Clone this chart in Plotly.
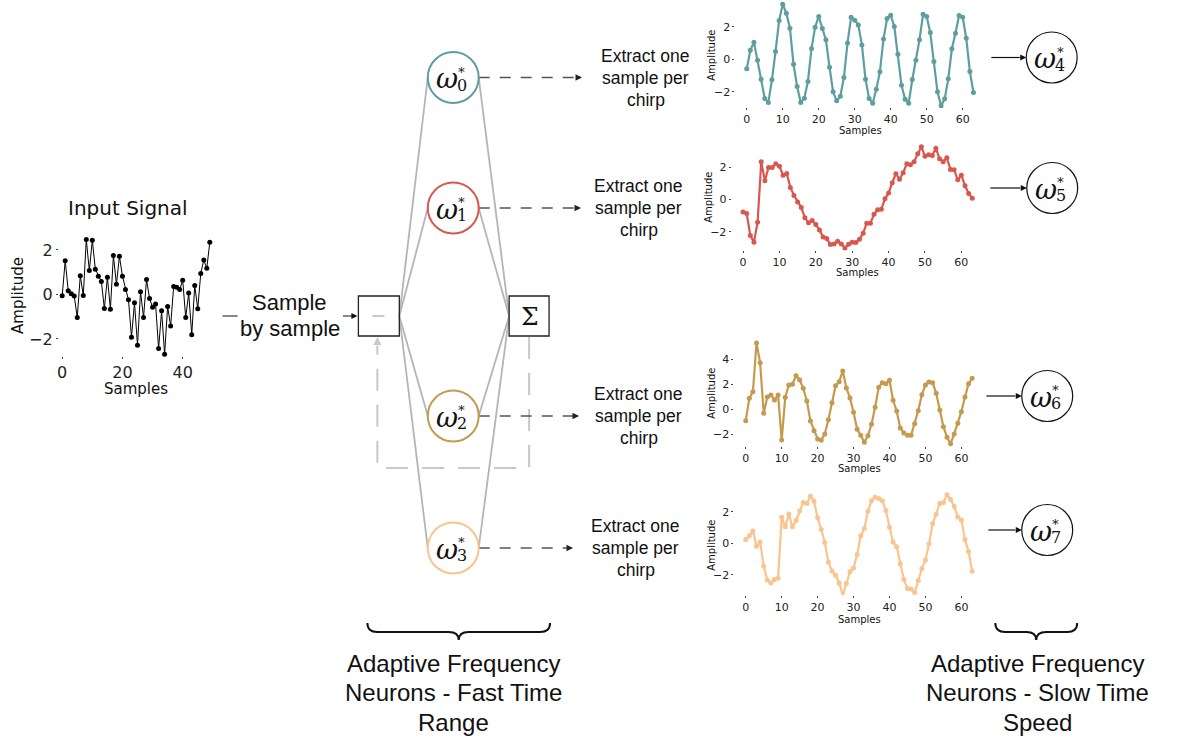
import plotly.graph_objects as go

W, H = 1184, 740

# ---------------- data ----------------
input_signal = [-0.06, 1.52, 0.17, 0.03, -0.07, -1.03, 0.84, -0.04, 2.47, 1.08,
                2.44, 1.14, 0.82, 0.58, -0.63, 0.78, -0.66, 1.75, 0.46, 1.72,
                0.82, 0.22, -0.24, -1.92, -0.37, -2.28, 0.12, -1.03, 0.67, -0.18,
                -0.57, -0.43, -2.43, -0.73, -2.68, -0.54, -1.41, 0.36, 0.33, 0.22,
                0.64, -1.03, 0.07, -1.81, 0.40, -0.64, 0.94, 1.55, 1.18, 2.35]

out_w4 = [-0.59, 0.55, 1.05, -0.06, -1.23, -2.42, -2.67, -1.27, 0.47, 2.38,
          3.38, 2.83, 1.91, -0.31, -1.68, -2.67, -2.40, -1.37, 0.66, 1.97,
          2.63, 1.89, 1.19, -0.49, -2.01, -2.56, -2.28, -1.13, 1.00, 2.58,
          2.40, 2.11, 0.88, -1.23, -2.42, -2.71, -1.85, -0.78, 1.25, 2.50,
          2.71, 2.01, 0.31, -1.60, -2.46, -2.71, -1.25, -0.06, 1.19, 2.77,
          2.63, 1.64, -0.14, -2.01, -2.87, -2.44, -1.21, 0.64, 1.60, 2.69,
          2.58, 1.29, -0.76, -2.05]

out_w5 = [-0.77, -0.87, -2.24, -2.65, -1.41, 2.35, 1.16, 1.99, 1.99, 2.22,
          2.07, 1.51, 1.62, 0.75, 0.25, -0.15, -0.50, -1.14, -1.45, -1.31,
          -1.56, -1.89, -2.33, -2.43, -2.80, -2.76, -2.59, -2.76, -3.01, -2.78,
          -2.65, -2.67, -2.47, -2.09, -1.47, -1.47, -0.91, -0.64, -0.60, 0.04,
          0.41, 1.04, 1.60, 1.26, 1.66, 2.22, 2.16, 2.35, 2.84, 3.28,
          2.68, 2.78, 2.74, 3.19, 2.53, 2.35, 2.59, 1.87, 1.85, 1.22,
          1.51, 0.85, 0.37, 0.08]

out_w6 = [-0.91, 0.88, 1.41, 5.31, 3.73, -0.32, 0.99, 1.15, 0.75, 1.15,
          -2.45, 0.96, 1.95, 2.00, 2.69, 2.35, 1.68, 0.67, -0.93, -1.71,
          -2.37, -2.48, -1.97, -0.83, 0.53, 1.89, 2.21, 3.07, 1.71, 0.91,
          -0.24, -1.60, -2.08, -2.64, -2.11, -1.20, 0.16, 1.76, 2.13, 2.05,
          2.32, 0.72, -0.13, -1.49, -1.89, -2.08, -2.08, -1.15, -0.11, 1.17,
          1.95, 2.19, 2.13, 1.28, -0.05, -1.39, -2.24, -2.75, -1.97, -1.12,
          -0.19, 0.99, 2.05, 2.48]

out_w7 = [0.23, 0.47, 0.78, -0.19, 0.08, -1.46, -2.33, -2.52, -2.31, -2.22,
          1.65, 1.04, 1.86, 1.04, 1.44, 2.05, 2.58, 2.52, 2.98, 2.67,
          1.61, 0.87, 0.04, -1.21, -1.76, -2.03, -2.52, -3.32, -2.56, -1.82,
          -1.57, -0.72, 0.47, 0.93, 2.03, 2.69, 2.92, 2.84, 2.69, 2.07,
          1.02, 0.08, -0.23, -1.31, -2.31, -2.88, -2.90, -3.13, -2.37, -1.61,
          -1.06, -0.04, 1.23, 1.84, 2.52, 2.58, 3.07, 2.77, 2.33, 1.67,
          1.48, 0.23, -0.53, -1.78]

input_x = list(range(len(input_signal)))
slow_x = list(range(len(out_w4)))

fast_labels = ["0", "1", "2", "3"]
slow_labels = ["4", "5", "6", "7"]
extract_lines = ["Extract one", "sample per", "chirp"]
fast_caption = ["Adaptive Frequency", "Neurons - Fast Time", "Range"]
slow_caption = ["Adaptive Frequency", "Neurons - Slow Time", "Speed"]

TEAL = "#5f9ea0"
RED = "#d9574f"
GOLD = "#c49a4e"
PEACH = "#f9c48e"
series_colors = [TEAL, RED, GOLD, PEACH]
slow_series = [out_w4, out_w5, out_w6, out_w7]

SANS = "Liberation Sans, Arial, sans-serif"
MPL = "DejaVu Sans, sans-serif"
SERIF = "DejaVu Serif, serif"


def span(pa, va, pb, vb, lo, hi):
    """Pixel positions of lo/hi given two calibration points (pixel, value)."""
    k = (pb - pa) / (vb - va)
    return pa + k * (lo - va), pa + k * (hi - va)


def xdomain(pa, va, pb, vb, lo, hi):
    p0, p1 = span(pa, va, pb, vb, lo, hi)
    return [max(0, p0 / W), min(1, p1 / W)]


def ydomain(pa, va, pb, vb, lo, hi):
    p_lo, p_hi = span(pa, va, pb, vb, lo, hi)
    return [max(0, 1 - p_lo / H), min(1, 1 - p_hi / H)]


fig = go.Figure()

# ---------------- input signal subplot ----------------
fig.add_trace(go.Scatter(
    x=input_x, y=input_signal, mode="lines+markers", cliponaxis=False,
    line=dict(color="black", width=1), marker=dict(color="black", size=5),
    xaxis="x2", yaxis="y2", hoverinfo="skip"))

in_xr, in_yr = [-1.1, 50.5], [-2.76, 2.73]
axis_common = dict(showgrid=False, zeroline=False, showline=False,
                   ticks="outside", ticklen=2, tickwidth=1, tickcolor="#444")
layout_axes = {
    "xaxis2": dict(axis_common, domain=xdomain(60.3, 0, 181, 40, *in_xr), range=in_xr,
                   anchor="y2", tickvals=[0, 20, 40],
                   tickfont=dict(family=MPL, size=16, color="#222")),
    "yaxis2": dict(axis_common, domain=ydomain(250, 2, 339, -2, *in_yr), range=in_yr,
                   anchor="x2", tickvals=[-2, 0, 2],
                   tickfont=dict(family=MPL, size=16, color="#222")),
}

# ---------------- slow-time output subplots ----------------
# (x-calibration, y-calibration, y-range, y-ticks)
slow_frames = [
    ((746, 0, 962.3, 60), (26.7, 2, 91.7, -2), [-2.95, 3.6], [-2, 0, 2]),
    ((742.3, 0, 961, 60), (167.3, 2, 231.7, -2), [-3.14, 3.6], [-2, 0, 2]),
    ((745, 0, 961, 60), (359.3, 4, 434.3, -2), [-2.91, 5.71], [-2, 0, 2, 4]),
    ((745, 0, 961, 60), (511.7, 2, 574.7, -2), [-3.3, 3.39], [-2, 0, 2]),
]
slow_xr = [-3.15, 66.15]
for i, (xc, yc, yr, yt) in enumerate(slow_frames):
    n = i + 3
    fig.add_trace(go.Scatter(
        x=slow_x, y=slow_series[i], mode="lines+markers", cliponaxis=False,
        line=dict(color=series_colors[i], width=2.2),
        marker=dict(color=series_colors[i], size=5),
        xaxis=f"x{n}", yaxis=f"y{n}", hoverinfo="skip"))
    layout_axes[f"xaxis{n}"] = dict(axis_common, domain=xdomain(*xc, *slow_xr), range=slow_xr,
                                    anchor=f"y{n}", tickvals=[0, 10, 20, 30, 40, 50, 60],
                                    tickfont=dict(family=MPL, size=11, color="#222"))
    layout_axes[f"yaxis{n}"] = dict(axis_common, domain=ydomain(*yc, *yr), range=yr,
                                    anchor=f"x{n}", tickvals=yt,
                                    tickfont=dict(family=MPL, size=11, color="#222"))

# ---------------- diagram canvas ----------------
shapes = []
annotations = []


def text(x, y, s, size, family=SANS, color="#111", angle=0, **kw):
    annotations.append(dict(x=x, y=y, xref="x", yref="y", text=s, showarrow=False,
                            font=dict(family=family, size=size, color=color),
                            textangle=angle, xanchor="center", yanchor="middle", **kw))


def arrowhead(x, y, ax, ay, color="#111", width=1.2):
    annotations.append(dict(x=x, y=y, ax=ax, ay=ay, xref="x", yref="y", axref="x", ayref="y",
                            text="", showarrow=True, arrowhead=2, arrowsize=1,
                            arrowwidth=width, arrowcolor=color))


def line(x0, y0, x1, y1, color, width, dash="solid"):
    shapes.append(dict(type="line", xref="x", yref="y", x0=x0, y0=y0, x1=x1, y1=y1,
                       line=dict(color=color, width=width, dash=dash)))


def neuron(cx, cy, sub, edge, width):
    shapes.append(dict(type="circle", xref="x", yref="y", x0=cx - 25.5, x1=cx + 25.5,
                       y0=cy - 25.5, y1=cy + 25.5, fillcolor="white",
                       line=dict(color=edge, width=width)))
    text(cx - 6.5, cy + 1, "<i>ω</i>", 27, family=SERIF)
    text(cx + 8.5, cy - 8.5, "∗", 13, family=SERIF, borderpad=0)
    text(cx + 8.5, cy + 7.5, sub, 16, family=SERIF, borderpad=0)


# input signal labels
text(126, 208, "Input Signal", 20, family=MPL)
text(16, 295, "Amplitude", 15, family=MPL, angle=-90)
text(134, 389, "Samples", 15, family=MPL)

# sample-by-sample feed
line(221, 316, 236, 316, "#111", 1)
text(288, 302, "Sample", 22)
text(288, 328, "by sample", 22)
arrowhead(356, 316, 340, 316)

# fan of connections (drawn before the neurons so the circles sit on top)
fast_cy = [77.5, 208, 416, 548]
FAN = "#b5b5b5"
for cy in fast_cy:
    line(398, 316, 452 - 25.5, cy, FAN, 1.8)
    line(452 + 25.5, cy, 508, 316, FAN, 1.8)

# feedback loop from the sum back to the input box
LOOP = "#c8c8c8"
shapes.append(dict(type="path", xref="x", yref="y",
                   path="M 528,337 L 528,468 L 376,468 L 376,346",
                   line=dict(color=LOOP, width=2, dash="22px,14px")))
arrowhead(376, 337, 376, 347, color=LOOP, width=1.6)
line(371, 316, 383, 316, LOOP, 2)

# input box and summation box
shapes.append(dict(type="rect", xref="x", yref="y", x0=357, x1=398, y0=296, y1=336,
                   fillcolor="rgba(0,0,0,0)", line=dict(color="#222", width=1.3)))
shapes.append(dict(type="rect", xref="x", yref="y", x0=508, x1=548, y0=296, y1=336,
                   fillcolor="white", line=dict(color="#222", width=1.3)))
text(528.5, 316, "Σ", 25, family=SERIF)

# fast-time neurons, dashed arrows and captions
extract_cx = [645, 638, 638, 635]
arrow_tip = [581, 580, 578, 572]
for k, cy in enumerate(fast_cy):
    line(452 + 25.5, cy, arrow_tip[k] - 6, cy, "#555", 1.3, dash="11px,10px")
    arrowhead(arrow_tip[k], cy, arrow_tip[k] - 7, cy, color="#222", width=1.3)
    neuron(452, cy, fast_labels[k], series_colors[k], 2)
    for j, s in enumerate(extract_lines):
        text(extract_cx[k], cy - 22 + 22 * j, s, 17.5)

# slow-time subplot axis titles
amp_pos = [(710, 55), (707, 197), (710, 393), (710, 545)]
samp_pos = [(860, 130), (857, 272), (859, 468), (859, 619)]
for (ax_, ay_), (sx, sy) in zip(amp_pos, samp_pos):
    text(ax_, ay_, "Amplitude", 10, family=MPL, angle=-90)
    text(sx, sy, "Samples", 10, family=MPL)

# slow-time neurons
slow_c = [(1051.5, 57.5), (1052, 188), (1047, 396), (1047, 530)]
slow_arrow_x0 = [991, 990, 986, 988]
for k, (cx, cy) in enumerate(slow_c):
    line(slow_arrow_x0[k], cy, cx - 32, cy, "#111", 1.2)
    arrowhead(cx - 25.5, cy, cx - 33, cy)
    neuron(cx, cy, slow_labels[k], "#111", 1.2)


# curly braces under each group
def brace(x0, x1, top=623, mid=632, tip=640):
    xm = (x0 + x1) / 2
    return (f"M {x0},{top} Q {x0},{mid} {x0 + 10},{mid} L {xm - 10},{mid} "
            f"Q {xm},{mid} {xm},{tip} Q {xm},{mid} {xm + 10},{mid} "
            f"L {x1 - 10},{mid} Q {x1},{mid} {x1},{top}")


for bx0, bx1 in [(366, 549), (995, 1077)]:
    shapes.append(dict(type="path", xref="x", yref="y", path=brace(bx0, bx1),
                       line=dict(color="#111", width=2)))

for j, s in enumerate(fast_caption):
    text(452, 663 + 29.5 * j, s, 24)
for j, s in enumerate(slow_caption):
    text(1037.5, 663 + 29.5 * j, s, 24)

fig.update_layout(
    width=W, height=H, margin=dict(l=0, r=0, t=0, b=0),
    paper_bgcolor="white", plot_bgcolor="rgba(0,0,0,0)", showlegend=False,
    xaxis=dict(range=[0, W], domain=[0, 1], visible=False, fixedrange=True),
    yaxis=dict(range=[H, 0], domain=[0, 1], visible=False, fixedrange=True),
    shapes=shapes, annotations=annotations,
    **layout_axes,
)

fig.write_html("out.html")
